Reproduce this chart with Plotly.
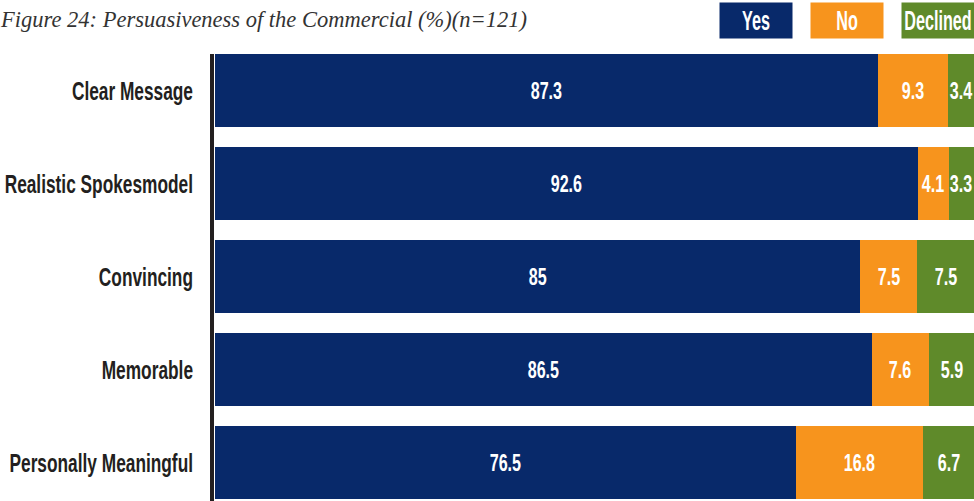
import plotly.graph_objects as go

# Survey results, top row first
categories = ["Clear Message", "Realistic Spokesmodel", "Convincing", "Memorable", "Personally Meaningful"]
yes_pct = [87.3, 92.6, 85, 86.5, 76.5]
no_pct = [9.3, 4.1, 7.5, 7.6, 16.8]
declined_pct = [3.4, 3.3, 7.5, 5.9, 6.7]
series_names = ["Yes", "No", "Declined"]

title_text = "Figure 24: Persuasiveness of the Commercial (%)(n=121)"

NAVY = "#08296a"
ORANGE = "#f7941d"
GREEN = "#5f8a2a"
DARK = "#231f20"
SANS = "Liberation Sans, Arial, sans-serif"

# Font sizes of the three label groups; each group is narrowed by its own factor
CAT_SIZE, VAL_SIZE, LEG_SIZE = 26, 23, 27
NARROW = {CAT_SIZE: 0.665, VAL_SIZE: 0.7, LEG_SIZE: 0.6}

W, H = 974, 501
ML, MT = 215, 44
PLOT_W = W - ML
PLOT_H = H - MT
BAND = 93  # pixels per category row


def px_x(px):
    return (px - ML) / PLOT_W


def px_y(py):
    return 1 + (MT - py) / PLOT_H


n = len(categories)
ypos = list(range(n - 1, -1, -1))  # first category at the top
bar_w = 0.785

fig = go.Figure()
series = [yes_pct, no_pct, declined_pct]
colors = [NAVY, ORANGE, GREEN]
for name, vals, col in zip(series_names, series, colors):
    fig.add_trace(go.Bar(
        y=ypos, x=vals, name=name, orientation="h",
        marker=dict(color=col, line=dict(width=0)),
        width=bar_w, showlegend=False, hoverinfo="x+name",
    ))

# Value labels centred in each segment
annotations = []
for i in range(n):
    left = 0.0
    for vals in series:
        v = vals[i]
        annotations.append(dict(
            x=left + v / 2, y=ypos[i], xref="x", yref="y",
            text=f"{v:g}", showarrow=False,
            font=dict(family=SANS, size=VAL_SIZE, color="white", weight="bold"),
            xanchor="center", yanchor="middle",
        ))
        left += v

# Legend boxes along the top
legend_centres = [756, 847, 938]
for name, col, cx in zip(series_names, colors, legend_centres):
    annotations.append(dict(
        x=px_x(cx), y=px_y(20.5), xref="paper", yref="paper",
        text=name, showarrow=False, bgcolor=col, width=72, height=35,
        borderpad=0, align="center", valign="middle",
        font=dict(family=SANS, size=LEG_SIZE, color="white", weight="bold"),
        xanchor="center", yanchor="middle",
    ))

# Figure caption
annotations.append(dict(
    x=px_x(-2), y=px_y(20), xref="paper", yref="paper",
    text=title_text, showarrow=False,
    font=dict(family="Liberation Serif, serif", size=22.5, color="#333333", style="italic"),
    xanchor="left", yanchor="middle",
))

y_top = n - 0.5
y_bottom = y_top - PLOT_H / BAND

fig.update_layout(
    width=W, height=H,
    margin=dict(l=ML, r=0, t=MT, b=0, pad=0, autoexpand=False),
    paper_bgcolor="white", plot_bgcolor="white",
    barmode="stack",
    annotations=annotations,
    xaxis=dict(range=[0, 100], visible=False, fixedrange=True, automargin=False),
    yaxis=dict(
        range=[y_bottom, y_top], tickmode="array", tickvals=ypos, ticktext=categories,
        showgrid=False, zeroline=False, showline=False, ticks="",
        ticklabelstandoff=21, automargin=False,
        tickfont=dict(family=SANS, size=CAT_SIZE, color=DARK, weight="bold"),
        fixedrange=True,
    ),
    shapes=[dict(
        type="line", xref="paper", yref="y",
        x0=px_x(212), x1=px_x(212), y0=ypos[0] + bar_w / 2, y1=y_bottom,
        line=dict(color=DARK, width=4),
    )],
)

# Narrow the sans labels horizontally to a condensed width
narrow_js = (
    "var f = " + str({str(k): v for k, v in NARROW.items()}).replace("'", '"') + ";"
    "document.querySelectorAll('#{plot_id} text').forEach(function(t){"
    "  var s = parseFloat(t.style.fontSize); var k = f[String(s)];"
    "  if (k) { var L = t.getComputedTextLength();"
    "    t.setAttribute('textLength', (L * k).toFixed(2));"
    "    t.setAttribute('lengthAdjust', 'spacingAndGlyphs'); }"
    "});"
)

fig.write_html("out.html", post_script=narrow_js)
